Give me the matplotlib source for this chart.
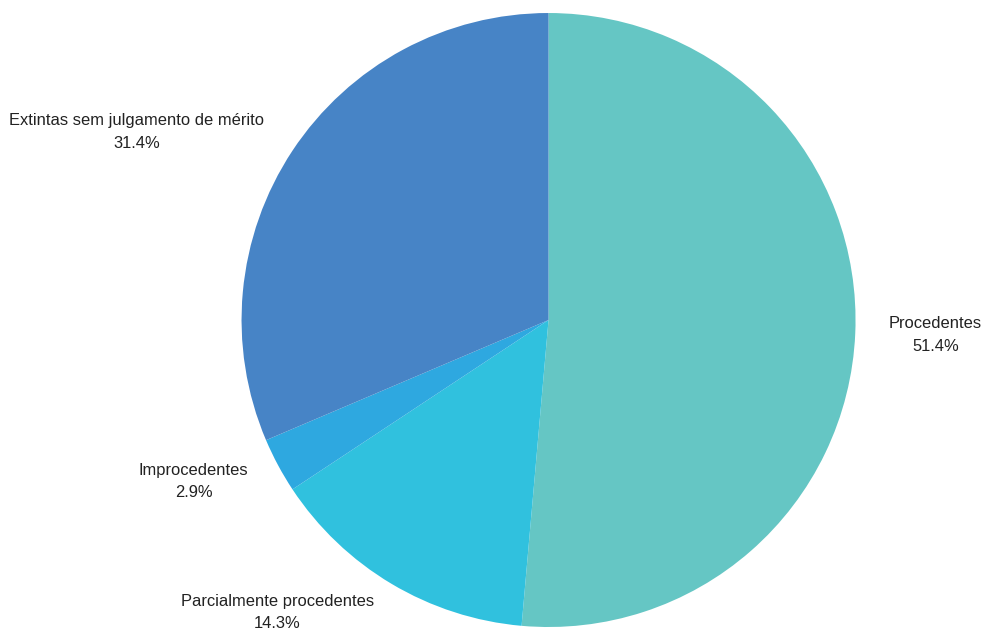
import matplotlib
matplotlib.use("Agg")
import matplotlib.pyplot as plt

# outcome shares, clockwise from 12 o'clock
categories = ["Procedentes", "Parcialmente procedentes", "Improcedentes",
              "Extintas sem julgamento de mérito"]
shares = [51.4, 14.3, 2.9, 31.4]
colors = ["#65c6c4", "#30c1de", "#2ea8e0", "#4784c6"]

plt.rcParams["font.family"] = ["Liberation Sans", "DejaVu Sans"]

fig = plt.figure(figsize=(9.85, 6.32), dpi=100)
ax = fig.add_axes([0.2452, 0.0079, 0.6234, 0.9715])

labels = [f"{c}\n{s:.1f}%" for c, s in zip(categories, shares)]
wedges, texts = ax.pie(shares, labels=labels, colors=colors, startangle=90,
                       counterclock=False, labeldistance=1.11,
                       wedgeprops=dict(linewidth=0),
                       textprops=dict(fontsize=11.9, color="#222222",
                                      multialignment="center",
                                      linespacing=1.6))
ax.set_xlim(-1, 1)
ax.set_ylim(-1, 1)
for t in texts:
    t.set_clip_on(False)

fig.savefig("out.png", dpi=100)
